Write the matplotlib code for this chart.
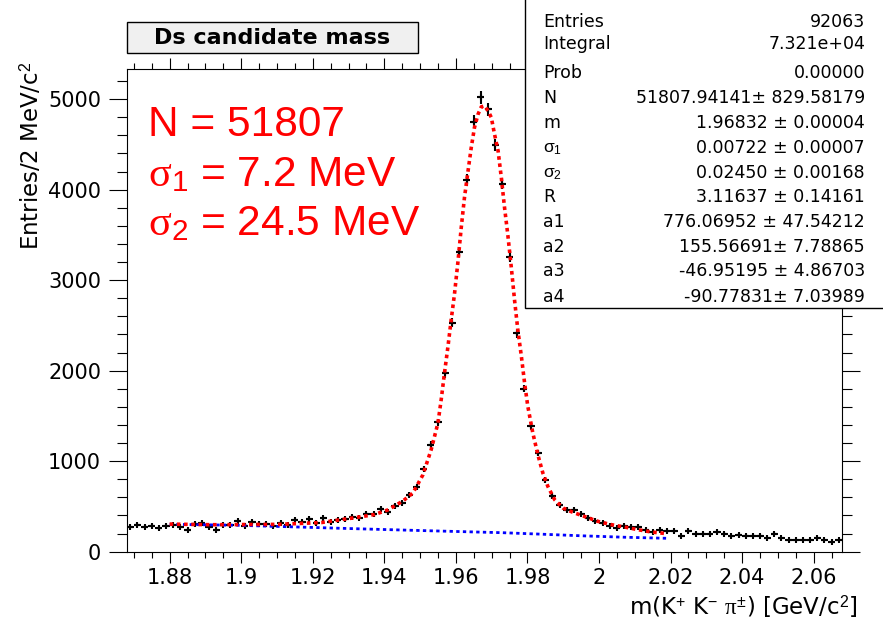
import numpy as np
import matplotlib
matplotlib.use("Agg")
import matplotlib.pyplot as plt
from matplotlib.ticker import MultipleLocator, FuncFormatter
from matplotlib.patches import Rectangle

plt.rcParams['font.family'] = ['DejaVu Sans']
plt.rcParams['mathtext.fontset'] = 'custom'
plt.rcParams['mathtext.rm'] = 'Liberation Serif'
plt.rcParams['mathtext.it'] = 'Liberation Serif:italic'
plt.rcParams['mathtext.sf'] = 'Liberation Sans'

#-------------------- data --------------------#
# 100 bins of 2 MeV from 1.868 to 2.068 GeV
bin_lo = 1.868
bin_hi = 2.068
counts = [273, 299, 273, 288, 258, 288, 299, 273, 243, 306,
          313, 273, 243, 299, 299, 336, 288, 324, 310, 310,
          280, 317, 299, 354, 324, 361, 317, 369, 332, 354,
          361, 383, 376, 413, 413, 472, 442, 509, 538, 625,
          710, 918, 1184, 1430, 1969, 2530, 3311, 4107, 4753, 5019,
          4889, 4495, 4067, 3260, 2412, 1803, 1386, 1088, 789, 612,
          520, 465, 457, 417, 372, 335, 317, 288, 258, 288,
          273, 273, 236, 214, 236, 225, 225, 170, 225, 199,
          199, 199, 214, 199, 170, 188, 177, 177, 177, 151,
          199, 151, 133, 133, 133, 125, 151, 125, 110, 133]

# total fit (red)
fit_x = [1.8800, 1.8917, 1.9104, 1.9224, 1.9316, 1.9372, 1.9410, 1.9452, 1.9480, 1.9508,
         1.9531, 1.9550, 1.9559, 1.9568, 1.9578, 1.9587, 1.9596, 1.9606, 1.9615, 1.9624,
         1.9634, 1.9643, 1.9652, 1.9662, 1.9671, 1.9680, 1.9690, 1.9699, 1.9708, 1.9718,
         1.9727, 1.9736, 1.9745, 1.9755, 1.9764, 1.9773, 1.9783, 1.9792, 1.9801, 1.9815,
         1.9829, 1.9843, 1.9857, 1.9876, 1.9899, 1.9927, 1.9959, 1.9997, 2.0034, 2.0071,
         2.0109, 2.0146, 2.0190]
fit_y = [305, 298, 302, 322, 375, 410, 462, 560, 650, 850,
         1128, 1424, 1681, 1969, 2271, 2566, 2843, 3211, 3581, 3913,
         4207, 4466, 4687, 4834, 4915, 4926, 4871, 4798, 4613, 4428,
         4134, 3802, 3507, 3138, 2779, 2456, 2160, 1866, 1607, 1313,
         1073, 871, 722, 575, 483, 435, 390, 335, 299, 273,
         243, 218, 199]

# background (blue)
bkg_x = [1.880, 1.899, 1.913, 1.931, 1.950, 1.973, 1.983, 1.995, 2.007, 2.019]
bkg_y = [303, 292, 276, 255, 234, 210, 195, 176, 160, 148]

stat_names = ['Entries', 'Integral', 'Prob', 'N', 'm',
              r'$\mathsf{\sigma}_{\mathsf{1}}$', r'$\mathsf{\sigma}_{\mathsf{2}}$',
              'R', 'a1', 'a2', 'a3', 'a4']
stat_values = ['92063', '7.321e+04', '0.00000', '51807.94141\u00b1 829.58179',
               '1.96832 \u00b1 0.00004', '0.00722 \u00b1 0.00007', '0.02450 \u00b1 0.00168',
               '3.11637 \u00b1 0.14161', '776.06952 \u00b1 47.54212',
               '155.56691\u00b1 7.78865', '-46.95195 \u00b1 4.86703',
               '-90.77831\u00b1 7.03989']
stat_rows_px = [27, 49, 78, 103, 127.5, 152.5, 177.5, 202.5, 227, 252, 276.5, 301.5]

red_lines = ['N = 51807',
             r'$\mathrm{\sigma}_{\mathsf{1}}$ = 7.2 MeV',
             r'$\mathrm{\sigma}_{\mathsf{2}}$ = 24.5 MeV']
red_rows_px = [136, 186, 235]

#-------------------- figure --------------------#
W, H = 883, 632
fig = plt.figure(figsize=(W / 100, H / 100), dpi=100)
ax = fig.add_axes([126.7 / W, 1 - 551.7 / H, (842.3 - 126.7) / W, (551.7 - 69.3) / H])

edges = np.linspace(bin_lo, bin_hi, len(counts) + 1)
centers = 0.5 * (edges[:-1] + edges[1:])
counts = np.array(counts, dtype=float)

ax.errorbar(centers, counts, yerr=np.sqrt(counts), xerr=0.001, fmt='+',
            color='black', ms=5, mew=1.5, elinewidth=1.5, capsize=0, zorder=2)
ax.plot(bkg_x, bkg_y, color='blue', lw=2, ls=(0, (1.2, 1.2)), zorder=3)
ax.plot(fit_x, fit_y, color='red', lw=2.6, ls=(0, (1, 1)), zorder=4)

ax.set_xlim(bin_lo, bin_hi)
ax.set_ylim(0, 5330)
ax.xaxis.set_major_locator(MultipleLocator(0.02))
ax.xaxis.set_minor_locator(MultipleLocator(0.005))
ax.yaxis.set_major_locator(MultipleLocator(1000))
ax.yaxis.set_minor_locator(MultipleLocator(200))
ax.xaxis.set_major_formatter(FuncFormatter(lambda v, p: '%g' % round(v, 3)))

ax.tick_params(axis='both', which='both', direction='out', top=True, right=True,
               width=0.8, labelsize=15)
ax.tick_params(axis='x', which='major', length=7.9, pad=4)
ax.tick_params(axis='x', which='minor', length=4.3)
ax.tick_params(axis='y', which='major', length=13, pad=5.5)
ax.tick_params(axis='y', which='minor', length=7.2)
for s in ax.spines.values():
    s.set_linewidth(0.8)

# axis titles, ROOT style
fig.text(31 / W, 1 - 62 / H, r'Entries/2 MeV/c$^{\mathsf{2}}$', rotation=90,
         ha='center', va='top', fontsize=16.5)
fig.text(858 / W, 1 - 607 / H,
         r'm(K$^{\mathsf{+}}$ K$^{\mathsf{-}}$ $\mathrm{\pi}^{\mathsf{\pm}}$) [GeV/c$^{\mathsf{2}}$]',
         ha='right', va='center', fontsize=16.5)

# title box
fig.add_artist(Rectangle((127 / W, 1 - 53 / H), 291 / W, 31 / H, transform=fig.transFigure,
                         facecolor='#f0f0f0', edgecolor='black', lw=1))
fig.text(272.5 / W, 1 - 38 / H, 'Ds candidate mass', ha='center', va='center',
         fontsize=16, fontweight='bold')

# stats box
fig.add_artist(Rectangle((525 / W, 1 - 308.3 / H), 0.45, 0.55, transform=fig.transFigure,
                         facecolor='white', edgecolor='black', lw=1))
for name, val, yp in zip(stat_names, stat_values, stat_rows_px):
    fig.text(543 / W, 1 - yp / H, name, ha='left', va='baseline', fontsize=12.5)
    fig.text(865 / W, 1 - yp / H, val, ha='right', va='baseline', fontsize=12.5)

# red fit summary
for line, yp in zip(red_lines, red_rows_px):
    fig.text(148 / W, 1 - yp / H, line, ha='left', va='baseline', color='red',
             fontsize=30.5, family='Liberation Sans')

fig.savefig('out.png', dpi=100, facecolor='white')
